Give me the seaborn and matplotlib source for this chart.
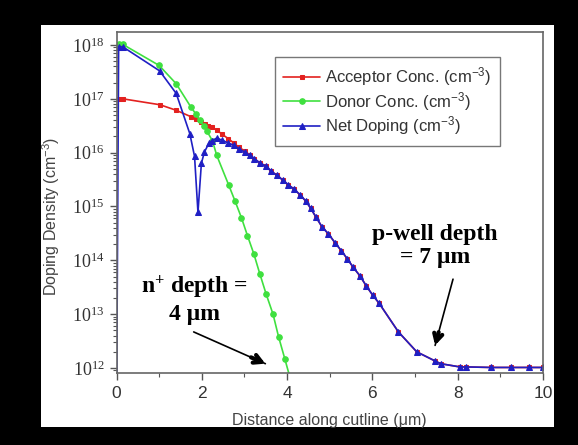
import numpy as np
import pandas as pd
import matplotlib
matplotlib.use("Agg")
import matplotlib.pyplot as plt
import seaborn as sns
from matplotlib.patches import Rectangle
from matplotlib.ticker import LogLocator, MultipleLocator, FixedLocator

# ---- data (x in um, log10 of concentration) ----
acc_x = [0.05, 0.15, 1.02, 1.39, 1.74, 1.87, 1.97, 2.07, 2.15, 2.24, 2.35,
         2.48, 2.62, 2.75, 2.87, 3.01, 3.12, 3.23, 3.36, 3.50, 3.62, 3.76,
         3.90, 4.03, 4.17, 4.31, 4.44, 4.55, 4.68, 4.82, 4.97, 5.12, 5.27,
         5.41, 5.55, 5.71, 5.86, 6.01, 6.16, 6.61, 7.04, 7.47, 7.60, 8.05,
         8.20, 8.78, 9.25, 9.68, 10.0]
acc_log = [17.0, 17.0, 16.89, 16.79, 16.67, 16.62, 16.57, 16.54, 16.50, 16.47, 16.42,
           16.34, 16.26, 16.18, 16.10, 16.03, 15.96, 15.89, 15.81, 15.75, 15.66, 15.58,
           15.49, 15.40, 15.32, 15.21, 15.10, 14.97, 14.80, 14.62, 14.49, 14.33, 14.18,
           14.03, 13.87, 13.71, 13.52, 13.35, 13.20, 12.67, 12.30, 12.13, 12.08, 12.02,
           12.02, 12.01, 12.01, 12.01, 12.01]

don_x = [0.05, 0.15, 1.0, 1.4, 1.75, 1.86, 1.95, 2.05, 2.12, 2.25, 2.35,
         2.63, 2.78, 2.93, 3.07, 3.22, 3.36, 3.51, 3.67, 3.80, 3.95, 4.18]
don_log = [18.01, 18.01, 17.62, 17.28, 16.84, 16.72, 16.60, 16.49, 16.40, 16.22, 15.95,
           15.40, 15.10, 14.79, 14.46, 14.12, 13.75, 13.37, 13.00, 12.58, 12.16, 11.5]

net_x = [0.0, 0.05, 0.16, 1.01, 1.40, 1.72, 1.83, 1.91, 1.99, 2.06, 2.17, 2.23,
         2.35, 2.48, 2.62, 2.75, 2.87, 3.01, 3.12, 3.23, 3.36, 3.50, 3.62, 3.76,
         3.90, 4.03, 4.17, 4.31, 4.44, 4.55, 4.68, 4.82, 4.97, 5.12, 5.27,
         5.41, 5.55, 5.71, 5.86, 6.01, 6.16, 6.61, 7.04, 7.47, 7.60, 8.05,
         8.20, 8.78, 9.25, 9.68, 10.0]
net_log = [11.0, 17.97, 17.96, 17.52, 17.10, 16.35, 15.93, 14.89, 15.80, 16.01, 16.18, 16.22,
           16.27, 16.23, 16.18, 16.14, 16.07, 16.01, 15.95, 15.89, 15.81, 15.75, 15.66, 15.58,
           15.49, 15.40, 15.32, 15.21, 15.10, 14.97, 14.80, 14.62, 14.49, 14.33, 14.18,
           14.03, 13.87, 13.71, 13.52, 13.35, 13.20, 12.67, 12.30, 12.13, 12.08, 12.02,
           12.02, 12.01, 12.01, 12.01, 12.01]

x_ticks = [0, 2, 4, 6, 8, 10]
y_decades = [12, 13, 14, 15, 16, 17, 18]

acc = pd.DataFrame({"x": acc_x, "y": 10.0 ** np.array(acc_log)})
don = pd.DataFrame({"x": don_x, "y": 10.0 ** np.array(don_log)})
net = pd.DataFrame({"x": net_x, "y": 10.0 ** np.array(net_log)})

sns.set_style("ticks")
plt.rcParams["font.family"] = ["Liberation Sans", "DejaVu Sans"]
plt.rcParams["mathtext.default"] = "regular"

fig = plt.figure(figsize=(5.78, 4.45), dpi=100)
fig.patch.set_facecolor("black")
# white panel inside the black frame
fig.patches.append(Rectangle((41 / 578, 18 / 445), 513 / 578, 402 / 445,
                             transform=fig.transFigure, facecolor="white",
                             edgecolor="none", zorder=-5))

ax = fig.add_axes([116.5 / 578, 72 / 445, 426.5 / 578, 341.3 / 445])
ax.set_zorder(2)
ax.set_facecolor("white")

red, green, blue = "#e3211f", "#3fe03f", "#1f1fc4"

sns.lineplot(data=acc, x="x", y="y", ax=ax, color=red, marker="s", markersize=3.2,
             markeredgecolor=red, lw=1.2, estimator=None, sort=False,
             label="Acceptor Conc. (cm$^{-3}$)")
sns.lineplot(data=don, x="x", y="y", ax=ax, color=green, marker="o", markersize=4,
             markeredgecolor=green, lw=1.2, estimator=None, sort=False,
             label="Donor Conc. (cm$^{-3}$)")
sns.lineplot(data=net, x="x", y="y", ax=ax, color=blue, marker="^", markersize=5,
             markeredgecolor=blue, lw=1.2, estimator=None, sort=False,
             label="Net Doping (cm$^{-3}$)")

ax.set_yscale("log")
ax.set_xlim(0, 10)
ax.set_ylim(10 ** 11.907, 10 ** 18.247)

ax.xaxis.set_major_locator(FixedLocator(x_ticks))
ax.xaxis.set_minor_locator(MultipleLocator(1))
ax.set_xticklabels([str(t) for t in x_ticks])
ax.yaxis.set_major_locator(FixedLocator([10.0 ** d for d in y_decades]))
ax.yaxis.set_minor_locator(LogLocator(base=10, subs=np.arange(2, 10), numticks=20))
ax.set_yticklabels(["10$^{%d}$" % d for d in y_decades],
                   fontfamily="Liberation Serif", fontsize=13)

ax.tick_params(axis="both", which="major", direction="out", length=5, width=1,
               color="#555555", labelcolor="#333333")
ax.tick_params(axis="both", which="minor", direction="out", length=3, width=0.8,
               color="#555555")
ax.tick_params(axis="x", labelsize=12.5, pad=4)
for s in ax.spines.values():
    s.set_color("#666666")
    s.set_linewidth(1.2)

ax.set_xlabel("Distance along cutline (\u03bcm)", fontsize=11.5, color="#444444", labelpad=9)
ax.set_ylabel("Doping Density (cm$^{-3}$)", fontsize=11.5, color="#444444")
ax.yaxis.set_label_coords(-0.128, 0.46)

leg = ax.legend(loc="upper left", bbox_to_anchor=(0.372, 0.926), fontsize=12,
                frameon=True, fancybox=False, framealpha=1, handlelength=2.2,
                handletextpad=0.3, borderpad=0.5, labelspacing=0.1,
                borderaxespad=0)
leg.get_frame().set_edgecolor("#777777")
leg.get_frame().set_linewidth(1.0)
for t in leg.get_texts():
    t.set_color("#333333")

# annotations
ann_font = dict(family="Liberation Serif", weight="bold", fontsize=17,
                ha="center", va="center", color="black", linespacing=1.15)
ax.text(1.84, 10 ** 13.28, "n$^{+}$ depth =\n4 \u03bcm", **ann_font)
ax.text(7.46, 10 ** 14.27, "p-well depth\n= 7 \u03bcm", **ann_font)

for (x0, l0), (x1, l1) in [((1.81, 12.67), (3.49, 12.08)),
                           ((7.89, 13.65), (7.47, 12.42))]:
    ax.annotate("", xy=(x1, 10 ** l1), xytext=(x0, 10 ** l0),
                arrowprops=dict(arrowstyle="-", lw=1.2, color="black",
                                shrinkA=0, shrinkB=0))
    xm = x0 + (x1 - x0) * 0.8
    lm = l0 + (l1 - l0) * 0.8
    ax.annotate("", xy=(x1, 10 ** l1), xytext=(xm, 10 ** lm),
                arrowprops=dict(arrowstyle="->,head_length=0.55,head_width=0.3",
                                lw=3, color="black", shrinkA=0, shrinkB=0))

fig.savefig("out.png", dpi=100, facecolor=fig.get_facecolor())
